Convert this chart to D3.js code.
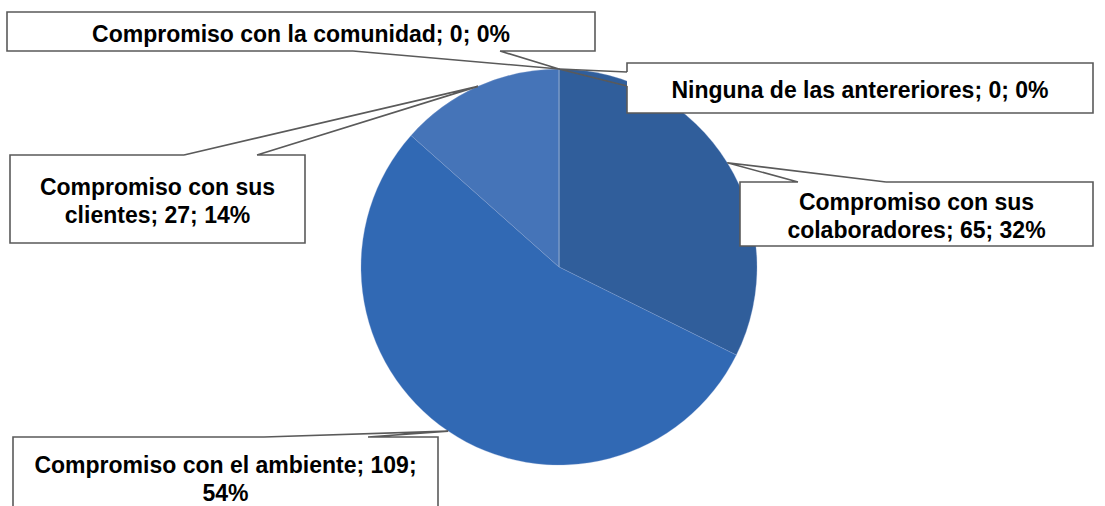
<!DOCTYPE html>
<html>
<head>
<meta charset="utf-8">
<script src="https://cdn.jsdelivr.net/npm/d3@7"></script>
<style>
  body { margin: 0; background: #fff; }
  svg { display: block; }
</style>
</head>
<body>
<div id="chart"></div>
<script>
// data
const categories = [
  "Compromiso con sus colaboradores",
  "Compromiso con el ambiente",
  "Compromiso con sus clientes",
  "Compromiso con la comunidad",
  "Ninguna de las antereriores"
];
const values = [65, 109, 27, 0, 0];
const percentLabels = ["32%", "54%", "14%", "0%", "0%"];
const colors = ["#305e9b", "#3169b4", "#4574b8", "#4a7bc0", "#5a88c8"];

// label lines as Excel wrapped them
const labelLines = [
  ["Compromiso con sus", "colaboradores; 65; 32%"],
  ["Compromiso con el ambiente; 109;", "54%"],
  ["Compromiso con sus", "clientes; 27; 14%"],
  ["Compromiso con la comunidad; 0; 0%"],
  ["Ninguna de las antereriores; 0; 0%"]
];

// callout boxes: x, y, w, h, side of the wedge, two base points along that side
const boxes = [
  {x: 740, y: 182, w: 353, h: 64, side: "top",    a: 798, b: 886},
  {x: 13,  y: 437, w: 425, h: 80, side: "top",    a: 264, b: 368},
  {x: 10,  y: 155, w: 295, h: 88, side: "top",    a: 184, b: 257},
  {x: 7,   y: 12,  w: 588, h: 39, side: "bottom", a: 353, b: 500},
  {x: 627, y: 63,  w: 466, h: 50, side: "left",   a: 72,  b: 86}
];

const width = 1105, height = 506;
const cx = 559, cy = 267, radius = 198;

const svg = d3.select("#chart").append("svg")
  .attr("width", width)
  .attr("height", height);

const pie = d3.pie().sort(null).value(d => d)(values);
const arc = d3.arc().innerRadius(0).outerRadius(radius);

const g = svg.append("g").attr("transform", `translate(${cx},${cy})`);

g.selectAll("path")
  .data(pie)
  .join("path")
  .attr("d", arc)
  .attr("fill", (d, i) => colors[i])
  .attr("stroke", "#8fa9d4")
  .attr("stroke-opacity", 0.5)
  .attr("stroke-width", 0.6);

// tip of each callout: mid angle of its slice at the rim
function tipOf(d) {
  const a = (d.startAngle + d.endAngle) / 2;
  return [cx + radius * Math.sin(a), cy - radius * Math.cos(a)];
}

// box outline with a gap where the wedge joins
function boxPath(b) {
  const x0 = b.x, y0 = b.y, x1 = b.x + b.w, y1 = b.y + b.h;
  if (b.side === "top") {
    return `M${b.a},${y0}L${x0},${y0}L${x0},${y1}L${x1},${y1}L${x1},${y0}L${b.b},${y0}`;
  } else if (b.side === "bottom") {
    return `M${b.a},${y1}L${x0},${y1}L${x0},${y0}L${x1},${y0}L${x1},${y1}L${b.b},${y1}`;
  }
  return `M${x0},${b.a}L${x0},${y0}L${x1},${y0}L${x1},${y1}L${x0},${y1}L${x0},${b.b}`;
}

function basePoints(b) {
  if (b.side === "top") return [[b.a, b.y], [b.b, b.y]];
  if (b.side === "bottom") return [[b.a, b.y + b.h], [b.b, b.y + b.h]];
  return [[b.x, b.a], [b.x, b.b]];
}

const labels = svg.append("g")
  .selectAll("g")
  .data(pie)
  .join("g");

labels.append("rect")
  .attr("x", (d, i) => boxes[i].x)
  .attr("y", (d, i) => boxes[i].y)
  .attr("width", (d, i) => boxes[i].w)
  .attr("height", (d, i) => boxes[i].h)
  .attr("fill", "#fff");

labels.append("path")
  .attr("d", (d, i) => {
    const t = tipOf(d);
    const [p, q] = basePoints(boxes[i]);
    return boxPath(boxes[i]) + `M${p[0]},${p[1]}L${t[0]},${t[1]}L${q[0]},${q[1]}`;
  })
  .attr("fill", "none")
  .attr("stroke", "#5a5a5a")
  .attr("stroke-width", 1.6)
  .attr("stroke-linejoin", "miter");

labels.each(function(d, i) {
  const b = boxes[i];
  const lines = labelLines[i];
  const lh = 28;
  const midY = (i === 1 ? b.y + 40 : b.y + b.h / 2) + 2;
  const startY = midY - (lines.length - 1) * lh / 2;
  d3.select(this).append("text")
    .attr("text-anchor", "middle")
    .attr("font-family", "Liberation Sans, Arial, sans-serif")
    .attr("font-weight", "bold")
    .attr("font-size", 23)
    .attr("fill", "#000")
    .selectAll("tspan")
    .data(lines)
    .join("tspan")
    .attr("x", b.x + b.w / 2)
    .attr("y", (l, k) => startY + k * lh)
    .attr("dy", "0.35em")
    .text(l => l);
});
</script>
</body>
</html>
